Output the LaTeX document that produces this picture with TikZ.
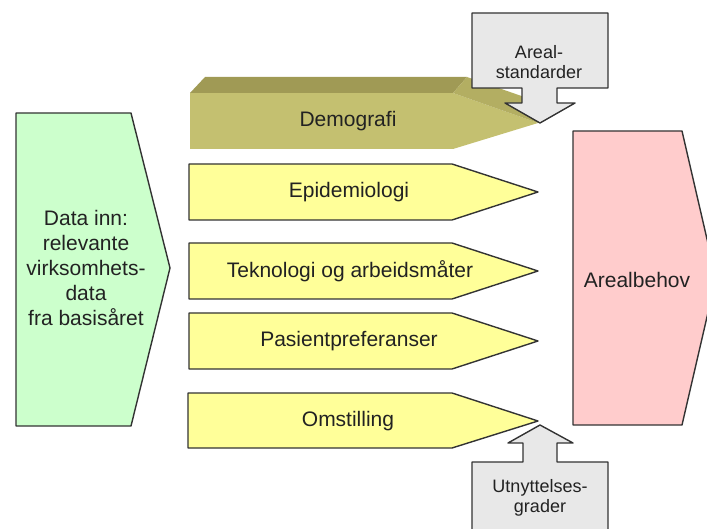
\documentclass[tikz,border=0pt]{standalone}
\usepackage{fontspec}
\setmainfont{Liberation Sans}
\definecolor{gfill}{HTML}{CCFFCC}
\definecolor{yfill}{HTML}{FFFF99}
\definecolor{pfill}{HTML}{FFCCCC}
\definecolor{grfill}{HTML}{E8E8E8}
\definecolor{olfront}{HTML}{C4C070}
\definecolor{oltop}{HTML}{A09A55}
\definecolor{olside}{HTML}{B3AE62}
\definecolor{edge}{HTML}{333333}
\definecolor{txt}{HTML}{222222}
\tikzset{
  shapeline/.style={draw=edge, line width=1.4pt, line join=round},
  bigtxt/.style={font=\fontsize{21}{25}\selectfont, text=txt, align=center, inner sep=0pt},
  smalltxt/.style={font=\fontsize{18}{20.5}\selectfont, text=txt, align=center, inner sep=0pt},
}
\begin{document}
\begin{tikzpicture}[x=1pt, y=-1pt]
\useasboundingbox (0,0) rectangle (707,529);
% green input
\draw[shapeline, fill=gfill] (16,113) -- (131,113) -- (170,268) -- (131,426) -- (16,426) -- cycle;
\node[bigtxt] (inn) at (86,268) {Data inn:\\relevante\\virksomhets-\\data\\fra basisåret};
% pink output
\draw[shapeline, fill=pfill] (573,131) -- (682,131) -- (716,278) -- (682,425) -- (573,425) -- cycle;
\node[bigtxt] (behov) at (637,280) {Arealbehov};
% Demografi 3D
\fill[olfront] (190,93) -- (453,93) -- (538,123) -- (453,149) -- (190,149) -- cycle;
\fill[oltop] (190,93) -- (205,77) -- (467,77) -- (453,93) -- cycle;
\fill[olside] (453,93) -- (467,77) -- (553,107) -- (538,123) -- cycle;
\node[bigtxt] (demo) at (348,121) {Demografi};
% yellow bars
\draw[shapeline, fill=yfill] (189,164) -- (452,164) -- (538,192) -- (452,220) -- (189,220) -- cycle;
\node[bigtxt] (epi) at (349,192) {Epidemiologi};
\draw[shapeline, fill=yfill] (189,243) -- (452,243) -- (538,271) -- (452,299) -- (189,299) -- cycle;
\node[bigtxt] (tek) at (350,271) {Teknologi og arbeidsmåter};
\draw[shapeline, fill=yfill] (189,313) -- (452,313) -- (538,341) -- (452,369) -- (189,369) -- cycle;
\node[bigtxt] (pas) at (349,341) {Pasientpreferanser};
\draw[shapeline, fill=yfill] (188,393) -- (452,393) -- (538,421) -- (452,448) -- (188,448) -- cycle;
\node[bigtxt] (oms) at (348,421) {Omstilling};
% gray arrow top
\draw[shapeline, fill=grfill] (472,13) -- (608,13) -- (608,88) -- (557,88) -- (557,103) -- (575,103) -- (540,123) -- (505,103) -- (522,103) -- (522,88) -- (472,88) -- cycle;
\node[smalltxt] (areal) at (539,62) {Areal-\\standarder};
% gray arrow bottom
\draw[shapeline, fill=grfill] (472,540) -- (472,462) -- (523,462) -- (523,443) -- (508,443) -- (540,425) -- (573,443) -- (557,443) -- (557,462) -- (608,462) -- (608,540);
\node[smalltxt] (utn) at (540,498) {Utnyttelses-\\grader};
\end{tikzpicture}
\end{document}
